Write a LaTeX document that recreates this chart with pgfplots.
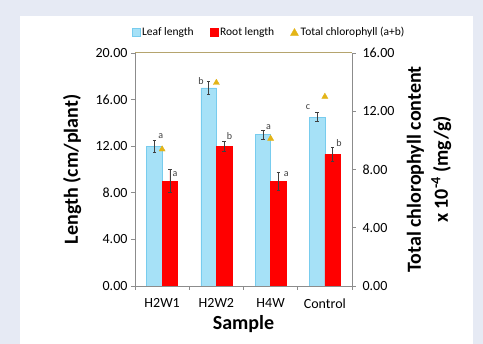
\documentclass[border=0pt]{standalone}
\usepackage{pgfplots}
\pgfplotsset{compat=1.18}
\usepackage{fontspec}
\setmainfont{Carlito}
\definecolor{bgc}{HTML}{E6EAF4}
\definecolor{leafc}{HTML}{A6E1F7}
\definecolor{leafe}{HTML}{78CCEE}
\definecolor{rootc}{HTML}{FF0000}
\definecolor{gold}{HTML}{E3B417}
\definecolor{axc}{HTML}{8C8C8C}
\definecolor{topc}{HTML}{B5A46E}
\definecolor{errc}{HTML}{404040}
\pgfplotsset{
  sqleg/.style={legend image code/.code={\draw[##1] (0pt,-4pt) rectangle (8pt,4pt);}},
  trileg/.style={legend image code/.code={\fill[gold] (0pt,-3.5pt) -- (8pt,-3.5pt) -- (4pt,3.5pt) -- cycle;}},
}
\begin{document}
\begin{tikzpicture}[x=1pt,y=1pt]
\path[use as bounding box, fill=bgc] (0,0) rectangle (483,344);
\fill[white] (20,0) rectangle (473,328);
\begin{axis}[
  at={(135pt,58pt)}, anchor=south west,
  scale only axis, width=217pt, height=233pt,
  xmin=-0.5, xmax=3.5, ymin=0, ymax=20,
  axis x line*=bottom, axis y line*=left,
  axis line style={draw=axc, line width=0.8pt},
  ybar, bar width=15.5pt,
  xtick={0,1,2,3}, xticklabels={H2W1,H2W2,H4W,Control},
  xticklabel style={yshift=-5pt},
  major x tick style={draw=none},
  minor xtick={-0.5,0.5,1.5,2.5,3.5},
  minor x tick style={draw=axc, line width=0.8pt},
  minor tick length=4pt,
  ytick={0,4,...,20},
  major tick length=4pt,
  y tick style={draw=axc, line width=0.8pt},
  tick align=outside,
  tick label style={font=\fontsize{14}{16}\selectfont},
  /pgf/number format/.cd, fixed, fixed zerofill, precision=2, assume math mode=true, /pgfplots/.cd,
  ylabel={\textbf{Length (cm/plant)}},
  ylabel style={font=\fontsize{20}{22}\selectfont, at={(axis description cs:-0.29,0.5)}, anchor=center},
  xlabel={\textbf{Sample}},
  xlabel style={font=\fontsize{20}{22}\selectfont, at={(axis description cs:0.5,-0.162)}, anchor=center},
  legend style={draw=none, fill=none, font=\fontsize{11.5}{13}\selectfont, at={(axis description cs:0.618,1.09)}, anchor=center, legend columns=3, /tikz/every even column/.append style={column sep=14pt}},
  error bars/error bar style={draw=errc, line width=0.6pt},
  error bars/error mark options={draw=errc, line width=0.6pt, rotate=90, mark size=1.8pt},
]
\addplot[fill=leafc, draw=leafe, bar shift=-7.75pt, sqleg,
  error bars/.cd, y dir=both, y explicit]
  coordinates {(0,12.0) +- (0,0.5) (1,17.0) +- (0,0.55) (2,13.0) +- (0,0.4) (3,14.5) +- (0,0.4)};
\addlegendentry{Leaf length}
\addplot[fill=rootc, draw=rootc, bar shift=7.75pt, sqleg,
  error bars/.cd, y dir=both, y explicit]
  coordinates {(0,9.0) +- (0,1.0) (1,12.0) +- (0,0.4) (2,9.0) +- (0,0.8) (3,11.3) +- (0,0.6)};
\addlegendentry{Root length}
\addlegendimage{trileg}
\addlegendentry{Total chlorophyll (a+b)}
\begin{scope}[font=\fontsize{10}{11}\selectfont, text=errc]
\node at (axis cs:-0.024,12.88) {a};
\node at (axis cs:0.24,9.61) {a};
\node at (axis cs:0.717,17.62) {b};
\node at (axis cs:1.24,12.88) {b};
\node at (axis cs:1.963,13.67) {a};
\node at (axis cs:2.29,9.6) {a};
\node at (axis cs:2.69,15.39) {c};
\node at (axis cs:3.26,12.3) {b};
\end{scope}
\end{axis}
\begin{axis}[
  at={(135pt,58pt)}, anchor=south west,
  scale only axis, width=217pt, height=233pt,
  xmin=-0.5, xmax=3.5, ymin=0, ymax=16,
  axis x line*=top, axis y line*=right,
  x axis line style={draw=topc, line width=1pt},
  y axis line style={draw=axc, line width=0.8pt},
  xtick=\empty,
  ytick={0,4,...,16},
  yticklabel style={xshift=3pt},
  major tick length=4pt,
  y tick style={draw=axc, line width=0.8pt},
  tick align=outside,
  tick label style={font=\fontsize{14}{16}\selectfont},
  /pgf/number format/.cd, fixed, fixed zerofill, precision=2, assume math mode=true, /pgfplots/.cd,
  ylabel={\textbf{Total chlorophyll content}\\[3pt]\textbf{x 10\textsuperscript{-4} (mg/g)}},
  ylabel style={font=\fontsize{20}{24}\selectfont, align=center, at={(axis description cs:1.355,0.5)}, anchor=center, rotate=0},
]
\addplot[only marks, mark=triangle*, mark size=3.5pt, color=gold]
  coordinates {(0,9.39) (1,13.96) (2,10.12) (3,13.0)};
\end{axis}
\end{tikzpicture}
\end{document}
